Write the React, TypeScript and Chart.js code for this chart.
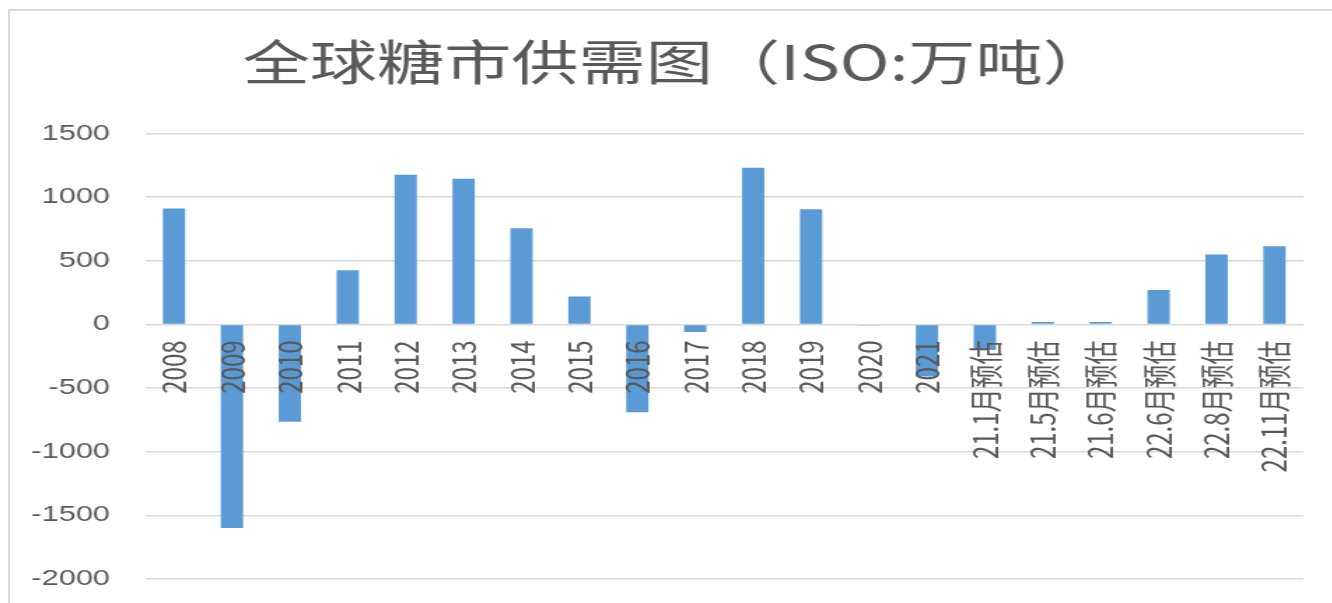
import React, { useEffect, useRef } from "react";
import { Chart, registerables } from "chart.js";

Chart.register(...registerables);

const categories = [
  "2008", "2009", "2010", "2011", "2012", "2013", "2014", "2015", "2016", "2017",
  "2018", "2019", "2020", "2021",
  "21.1月预估", "21.5月预估", "21.6月预估", "22.6月预估", "22.8月预估", "22.11月预估",
];
const balance = [
  910, -1600, -765, 425, 1175, 1145, 755, 220, -690, -60,
  1230, 905, -5, -410,
  -200, 20, 20, 270, 550, 615,
];
const yMin = -2000;
const yMax = 1500;
const yStep = 500;
const titleText = "全球糖市供需图（ISO:万吨）";

const STRETCH = 1.4;
const CW = 952;
const CH = 603;

const titlePlugin = {
  id: "stretchedTitle",
  afterDraw(chart: any) {
    const ctx = chart.ctx;
    ctx.save();
    ctx.font = "48px 'Noto Sans CJK SC', sans-serif";
    ctx.fillStyle = "#595959";
    ctx.textAlign = "center";
    ctx.textBaseline = "middle";
    ctx.fillText(titleText, 483, 62);
    ctx.restore();
  },
};

export default function App() {
  const ref = useRef<HTMLCanvasElement | null>(null);
  useEffect(() => {
    if (!ref.current) return;
    const chart = new Chart(ref.current, {
      type: "bar",
      data: {
        labels: categories,
        datasets: [
          {
            data: balance,
            backgroundColor: "#5b9bd5",
            borderWidth: 0,
            categoryPercentage: 1,
            barPercentage: 0.385,
          },
        ],
      },
      plugins: [titlePlugin],
      options: {
        responsive: false,
        animation: false,
        layout: { padding: { left: 3, right: 21, top: 133.5, bottom: 24 } },
        plugins: {
          legend: { display: false },
          tooltip: { enabled: false },
          title: { display: false },
        },
        scales: {
          x: {
            position: { y: 0 } as any,
            grid: { display: false, drawTicks: false },
            border: { display: false },
            afterFit: (scale: any) => {
              scale.paddingLeft = 0;
              scale.paddingRight = 0;
              scale.paddingTop = 0;
              scale.paddingBottom = 0;
            },
            ticks: {
              z: 1,
              autoSkip: false,
              minRotation: 90,
              maxRotation: 90,
              padding: 16,
              color: "#595959",
              font: { family: "'Noto Sans CJK SC', sans-serif", size: 24 },
            },
          },
          y: {
            min: yMin,
            max: yMax,
            afterFit: (scale: any) => {
              scale.width = 100.6;
              scale.paddingTop = 0;
              scale.paddingBottom = 0;
            },
            grid: { color: "#d9d9d9", lineWidth: 1.5, drawTicks: false },
            border: { display: false },
            ticks: {
              stepSize: yStep,
              padding: 25,
              color: "#595959",
              font: { family: "'Liberation Sans', sans-serif", size: 22 },
              callback: (v: any) => String(v),
            },
          },
        },
      },
    });
    return () => chart.destroy();
  }, []);

  return (
    <div
      style={{
        position: "fixed",
        left: 0,
        top: 0,
        width: 1332,
        height: 603,
        overflow: "hidden",
        background: "#ffffff",
      }}
    >
      <div
        style={{
          position: "absolute",
          left: 8,
          top: 9,
          width: 1400,
          height: 700,
          borderTop: "2px solid #d9d9d9",
          borderLeft: "2px solid #d9d9d9",
        }}
      />
      <div
        style={{
          position: "absolute",
          left: 0,
          top: 0,
          width: CW,
          height: CH,
          transform: `scaleX(${STRETCH})`,
          transformOrigin: "0 0",
        }}
      >
        <canvas ref={ref} width={CW} height={CH} />
      </div>
    </div>
  );
}
